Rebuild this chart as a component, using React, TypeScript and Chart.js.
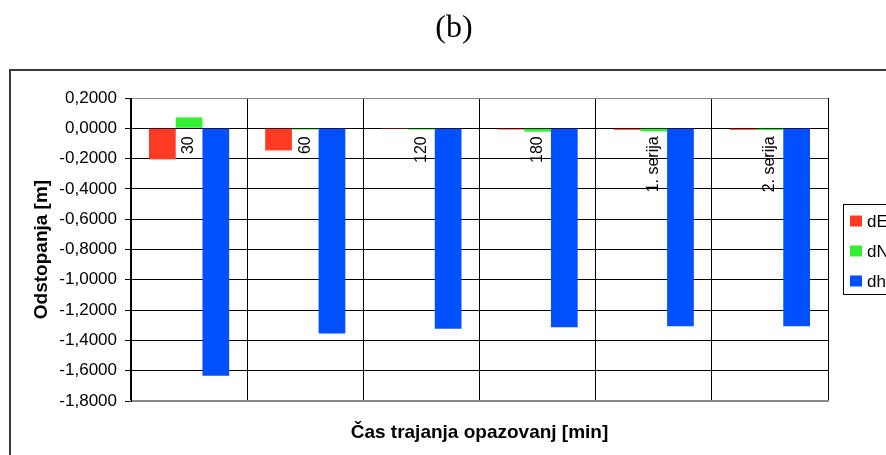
import React, { useEffect, useRef } from "react";
import { Chart, registerables } from "chart.js";

Chart.register(...registerables);

// Observation duration categories
const categories = ["30", "60", "120", "180", "1. serija", "2. serija"];

// Deviations per component [m]
const dE = [-0.205, -0.146, -0.001, -0.008, -0.01, -0.01];
const dN = [0.072, -0.008, -0.008, -0.022, -0.02, -0.012];
const dh = [-1.633, -1.355, -1.323, -1.314, -1.307, -1.307];

const seriesNames = ["dE", "dN", "dh"];
const seriesColors = ["#FF3B24", "#33F033", "#0050FF"];

const yMin = -1.8;
const yMax = 0.2;
const yStep = 0.2;

const panelTitle = "(b)";
const yTitle = "Odstopanja [m]";
const xTitle = "Čas trajanja opazovanj [min]";

const SANS = "'Liberation Sans', Arial, sans-serif";
const SERIF = "'Liberation Serif', 'Times New Roman', serif";

const fmt = (v: number) => {
  const n = Math.abs(v) < 1e-9 ? 0 : v;
  return n.toFixed(4).replace(".", ",");
};

// Outer frame, panel caption and legend box
const decorPlugin = {
  id: "decor",
  beforeDraw(chart: any) {
    const { ctx, width, height } = chart;
    ctx.save();
    ctx.fillStyle = "#ffffff";
    ctx.fillRect(0, 0, width, height);
    ctx.strokeStyle = "#3a3a3a";
    ctx.lineWidth = 2;
    ctx.strokeRect(10, 70, width + 40, height + 40);
    ctx.fillStyle = "#000";
    ctx.font = `32px ${SERIF}`;
    ctx.textAlign = "center";
    ctx.textBaseline = "middle";
    ctx.fillText(panelTitle, 454, 29);
    ctx.restore();
  },
  afterDraw(chart: any) {
    const { ctx } = chart;
    ctx.save();
    ctx.strokeStyle = "#000";
    ctx.lineWidth = 1;
    ctx.strokeRect(843.5, 204.5, 80, 90);
    ctx.font = `17px ${SANS}`;
    ctx.textAlign = "left";
    ctx.textBaseline = "middle";
    chart.data.datasets.forEach((ds: any, i: number) => {
      const cy = 221 + i * 30;
      ctx.fillStyle = ds.backgroundColor;
      ctx.fillRect(850, cy - 5.5, 12, 11);
      ctx.fillStyle = "#000";
      ctx.fillText(ds.label, 867, cy + 1);
    });
    ctx.restore();
  },
};

// Category names drawn vertically just under the zero line
const categoryLabelPlugin = {
  id: "categoryLabels",
  afterDatasetsDraw(chart: any) {
    const { ctx } = chart;
    const xs = chart.scales.x;
    const ys = chart.scales.y;
    const y0 = ys.getPixelForValue(0);
    ctx.save();
    ctx.fillStyle = "#000";
    ctx.font = `16px ${SANS}`;
    ctx.textAlign = "right";
    ctx.textBaseline = "middle";
    chart.data.labels.forEach((lab: string, i: number) => {
      const x = xs.getPixelForValue(i);
      ctx.save();
      ctx.translate(x, y0 + 8);
      ctx.rotate(-Math.PI / 2);
      ctx.fillText(lab, 0, 0);
      ctx.restore();
    });
    ctx.restore();
  },
};

export default function App() {
  const canvasRef = useRef<HTMLCanvasElement | null>(null);

  useEffect(() => {
    document.body.style.margin = "0";
    const canvas = canvasRef.current;
    if (!canvas) return;
    const series = [dE, dN, dh];
    const chart = new Chart(canvas, {
      type: "bar",
      data: {
        labels: categories,
        datasets: series.map((values, i) => ({
          label: seriesNames[i],
          data: values,
          backgroundColor: seriesColors[i],
          borderWidth: 0,
          categoryPercentage: 0.69,
          barPercentage: 1,
        })),
      },
      options: {
        responsive: false,
        animation: false,
        devicePixelRatio: 1,
        layout: { padding: { left: 0, top: 98, right: 58, bottom: 0 } },
        plugins: {
          legend: { display: false },
          title: { display: false },
          tooltip: { enabled: false },
        },
        scales: {
          x: {
            afterFit(scale: any) {
              scale.height = 54;
            },
            ticks: { display: false },
            grid: {
              offset: true,
              drawTicks: false,
              lineWidth: 1,
              color: (c: any) => (c.index === categories.length ? "#888" : "#000"),
            },
            border: { display: true, color: "#888", width: 2 },
            title: {
              display: true,
              text: xTitle,
              color: "#000",
              font: { family: SANS, size: 19, weight: "bold" },
              padding: { top: 0, bottom: 11 },
            },
          },
          y: {
            min: yMin,
            max: yMax,
            afterFit(scale: any) {
              scale.width = 131;
            },
            ticks: {
              stepSize: yStep,
              color: "#000",
              padding: 8,
              font: { family: SANS, size: 17 },
              callback: (v: any) => fmt(Number(v)),
            },
            grid: {
              drawTicks: true,
              tickLength: 6,
              lineWidth: 1,
              color: (c: any) => {
                const v = c.tick ? c.tick.value : 0;
                if (Math.abs(v - yMax) < 1e-6 || Math.abs(v - yMin) < 1e-6) return "#888";
                return "#000";
              },
              tickColor: "#000",
            },
            border: { display: true, color: "#000", width: 1 },
            title: {
              display: true,
              text: yTitle,
              color: "#000",
              font: { family: SANS, size: 19, weight: "bold" },
              padding: { top: 30, bottom: 0 },
            },
          },
        },
      },
      plugins: [decorPlugin, categoryLabelPlugin],
    });
    return () => chart.destroy();
  }, []);

  return (
    <div style={{ width: 886, height: 455, overflow: "hidden" }}>
      <canvas ref={canvasRef} width={886} height={455} style={{ display: "block" }} />
    </div>
  );
}
